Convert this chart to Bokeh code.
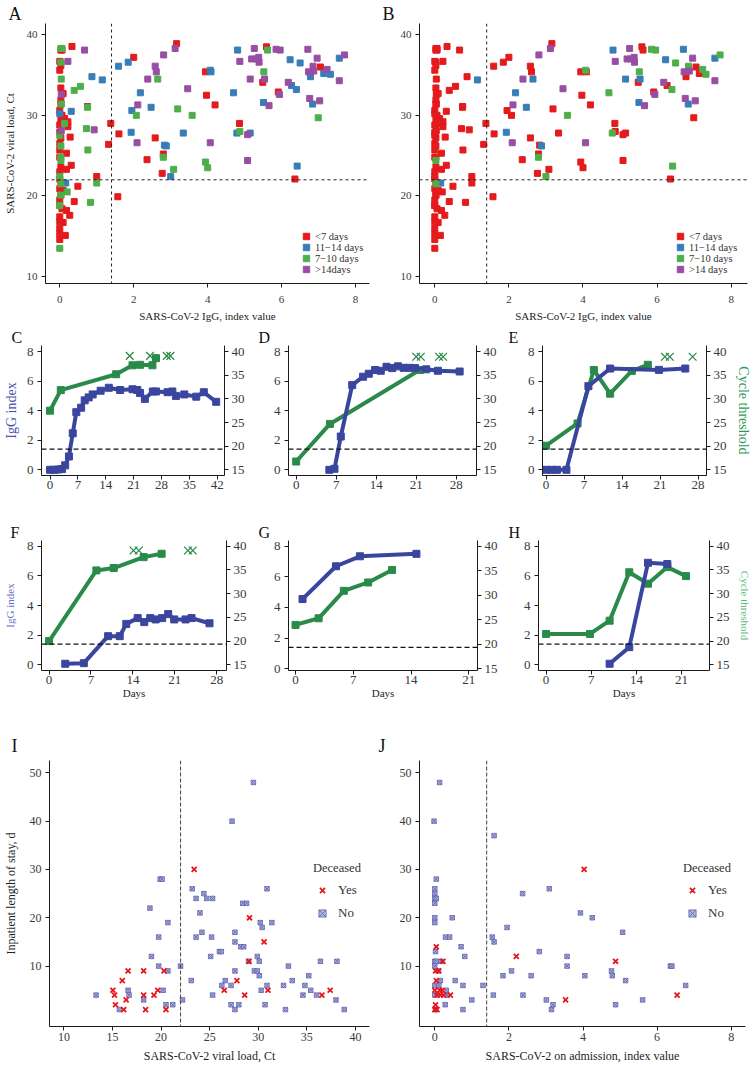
from bokeh.plotting import figure
from bokeh.models import (Range1d, LinearAxis, FixedTicker, Span, Title, Legend, LegendItem)
from bokeh.layouts import row, column
from bokeh.embed import file_html
from bokeh.resources import INLINE

FONT = "Liberation Serif"

# ---------------- Panels A / B : IgG index vs viral load (Ct) ----------------
igg_index = [
    0.03, 0.06, 0.0, 0.03, 0.0, 0.03, 0.09, 0.03, 0.03, 0.0,
    0.06, 0.03, 0.13, 0.0, 0.22, 0.22, 0.0, 0.03, 0.28, 0.0,
    0.0, 0.18, 0.0, 0.03, 0.31, 0.18, 0.0, 0.0, 0.03, 0.0,
    0.09, 0.03, 0.0, 0.0, 0.06, 0.18, 0.0, 0.27, 0.0, 0.09,
    0.0, 0.15, 0.0, 0.0, 0.33, 1.32, 1.38, 0.39, 0.49, 1.0,
    0.75, 1.57, 1.6, 2.0, 2.58, 2.36, 2.77, 2.8, 3.16, 3.94,
    3.97, 4.2, 4.86, 5.49, 5.59, 5.91, 6.36, 7.05,
    0.0, 0.16, 0.31, 0.87, 1.15, 1.59, 1.85, 2.18, 1.95, 1.93,
    2.47, 2.83, 2.88, 3.0, 3.34, 4.07, 4.09, 4.7, 4.81, 4.79,
    5.15, 5.51, 6.23, 6.27, 6.4, 6.5, 6.42, 6.78, 6.84, 7.14,
    7.32, 7.56,
    0.03, 0.06, 0.03, 0.04, 0.04, 0.0, 0.03, 0.03, 0.03, 0.0,
    0.03, 0.03, 0.0, 0.0, 0.13, 0.2, 0.39, 0.56, 0.75, 0.72,
    0.76, 1.0, 0.83, 2.07, 2.65, 2.8, 3.08, 3.19, 3.58, 3.94,
    4.0, 4.87, 5.52, 5.62, 6.99,
    0.04, 0.04, 0.22, 0.67, 0.93, 2.11, 2.09, 2.38, 2.58, 2.61,
    2.81, 3.12, 3.46, 4.07, 4.87, 5.08, 5.08, 5.15, 5.19, 5.26,
    5.3, 5.38, 5.39, 5.54, 5.66, 5.85, 5.96, 5.94, 6.18, 6.71,
    6.73, 6.76, 6.85, 6.87, 6.96, 7.03, 7.23, 7.56, 7.7]
viral_ct = [
    38.1, 38.1, 36.7, 36.2, 35.6, 33.4, 32.7, 31.9, 31.4, 30.6,
    30.0, 29.4, 29.6, 28.8, 29.2, 28.6, 27.9, 27.2, 27.3, 26.5,
    25.7, 25.3, 24.8, 23.6, 23.8, 23.3, 23.0, 22.1, 21.6, 20.9,
    20.7, 20.1, 19.5, 18.8, 18.4, 18.2, 17.4, 17.6, 16.8, 16.7,
    16.0, 15.1, 15.3, 14.6, 38.55, 26.4, 29.0, 19.3, 21.2, 22.4,
    31.1, 19.9, 27.7, 37.2, 27.2, 24.5, 22.8, 25.2, 38.9, 35.4,
    32.5, 31.3, 29.0, 34.1, 38.5, 32.9, 22.1, 36.0,
    30.2, 21.6, 30.5, 34.8, 34.4, 36.1, 36.6, 32.8, 30.6, 27.9,
    31.0, 26.3, 26.2, 22.4, 27.8, 35.6, 35.4, 32.8, 38.1, 27.8,
    27.8, 31.6, 36.9, 33.7, 33.2, 36.5, 23.7, 34.8, 31.4, 35.2,
    35.1, 37.1,
    38.3, 38.3, 36.6, 34.5, 31.4, 27.5, 26.2, 24.8, 24.4, 22.4,
    21.5, 20.1, 18.8, 13.5, 29.0, 20.5, 33.1, 33.6, 31.0, 28.35,
    25.7, 21.6, 19.2, 30.0, 34.5, 24.8, 23.3, 30.8, 30.0, 24.2,
    23.5, 28.0, 35.4, 38.1, 29.7,
    32.6, 28.1, 36.7, 38.1, 28.2, 31.3, 26.6, 34.5, 36.1, 35.4,
    37.5, 38.3, 33.3, 26.6, 36.7, 24.4, 27.6, 34.5, 37.0, 38.3,
    37.0, 37.2, 36.6, 34.5, 31.2, 38.2, 38.1, 32.6, 34.1, 38.2,
    35.4, 32.1, 36.1, 35.5, 37.1, 31.8, 35.7, 34.3, 37.5]
# group index: 0 "<7 days", 1 "11-14 days", 2 "7-10 days", 3 ">14 days"
group_a = [0] * 68 + [1] * 32 + [2] * 35 + [3] * 39
group_b = ([0] * 68 +
           [0, 1, 0, 0, 1, 0, 0, 1, 0, 1, 1, 0, 1, 2, 0, 2, 0, 2, 1, 2,
            0, 1, 1, 0, 2, 2, 2, 0, 1, 0, 2, 1] +
           [0, 0, 0, 0, 0, 0, 0, 0, 2, 0, 2, 0, 0, 0, 0, 0, 0, 0, 0, 0,
            0, 0, 0, 0, 1, 2, 0, 0, 2, 0, 0, 0, 2, 0, 0] +
           [0, 0, 0, 0, 0, 3, 3, 3, 0, 0, 3, 3, 3, 3, 3, 0, 0, 1, 3, 3,
            3, 3, 3, 1, 3, 2, 2, 3, 3, 1, 3, 3, 2, 3, 3, 3, 2, 3, 2])
labels_a = ["<7 days", "11\u221214 days", "7\u221210 days", ">14days"]
labels_b = ["<7 days", "11\u221214 days", "7\u221210 days", ">14 days"]
group_colors = ["#E41A1C", "#377EB8", "#4DAF4A", "#984EA3"]

# ---------------- Panels C-H : time courses ----------------
c_igg_day = [0, 1, 2, 3, 3.8, 4.75, 5.7, 6.6, 7.8, 8.7, 9.7, 10.7, 12.7, 14.75,
             17.6, 20.7, 21.9, 22.6, 23.8, 25.8, 26.6, 29.5, 30.7, 31.6, 33.7, 36.7, 38.6, 41.7]
c_igg = [0.0, 0.0, 0.02, 0.05, 0.3, 0.9, 2.47, 3.9, 4.2, 4.7, 4.9, 5.1, 5.35, 5.55,
         5.4, 5.45, 5.4, 5.2, 4.8, 5.3, 5.3, 5.25, 5.3, 5.0, 5.1, 4.95, 5.25, 4.6]
c_ct_day = [0, 2.7, 16.6, 20.7, 22.6, 25.7, 26.6]
c_ct = [27.5, 31.85, 35.2, 37.1, 37.2, 37.1, 38.6]
c_neg_day = [20.0, 25.1, 29.3, 30.2]
c_neg_ct = [39.1, 39.1, 39.1, 39.1]

d_igg_day = [5.8, 6.7, 7.8, 9.8, 11.7, 12.7, 13.8, 14.8, 15.8, 16.8, 17.8, 18.8, 19.8, 20.8, 22.75, 24.8, 28.6]
d_igg = [0.0, 0.07, 2.25, 5.73, 6.3, 6.5, 6.75, 6.7, 6.97, 6.88, 7.0, 6.9, 6.9, 6.88, 6.8, 6.7, 6.65]
d_ct_day = [0, 5.9, 21.6]
d_ct = [16.75, 24.7, 36.1]
d_neg_day = [21.0, 21.8, 25.0, 25.7]
d_neg_ct = [38.9, 38.9, 38.9, 38.9]

e_igg_day = [0, 1, 2, 3.75, 7.8, 11.8, 20.8, 25.65]
e_igg = [0.0, 0.0, 0.0, 0.0, 5.66, 6.85, 6.76, 6.85]
e_ct_day = [0, 5.8, 8.8, 11.8, 15.8, 18.75]
e_ct = [20.1, 24.8, 36.1, 31.1, 35.9, 37.2]
e_neg_day = [21.9, 22.8, 27.0]
e_neg_ct = [38.9, 38.9, 38.9]

f_igg_day = [2.7, 5.8, 9.86, 11.8, 12.9, 14.8, 15.9, 16.9, 17.8, 18.9, 19.9, 20.9, 22.8, 23.8, 26.8]
f_igg = [0.07, 0.11, 1.93, 1.93, 2.76, 3.15, 2.88, 3.15, 3.06, 3.15, 3.42, 3.06, 3.06, 3.15, 2.8]
f_ct_day = [0, 7.9, 10.8, 15.8, 18.8]
f_ct = [20.0, 34.9, 35.4, 37.7, 38.4]
f_neg_day = [14.1, 15.0, 23.2, 24.0]
f_neg_ct = [39.1, 39.1, 39.1, 39.1]

g_igg_day = [0.85, 4.9, 7.8, 14.65]
g_igg = [4.55, 6.69, 7.34, 7.5]
g_ct_day = [0, 2.8, 5.85, 8.8, 11.7]
g_ct = [23.95, 25.3, 30.9, 32.6, 35.15]

h_igg_day = [9.85, 12.9, 15.8, 18.8]
h_igg = [0.07, 1.19, 6.88, 6.8]
h_ct_day = [0, 6.8, 9.85, 12.9, 15.8, 18.8, 21.7]
h_ct = [21.5, 21.5, 24.3, 34.5, 32.1, 35.6, 33.7]

# ---------------- Panels I / J : length of stay ----------------
i_ct_yes = [15.03, 15.2, 15.3, 16.0, 16.4, 16.15, 16.6, 18.2, 18.2, 18.4, 19.26, 19.66,
            20.3, 20.5, 23.4, 26.5, 27.8, 28.6, 29.05, 29.1, 30.6, 31.0, 36.55, 37.4]
i_los_yes = [5, 4, 2, 7, 3, 1, 9, 9, 4, 1, 4, 5, 9, 1, 30, 5, 7, 4, 11, 20, 15, 5, 4, 5]
i_ct_no = [13.3, 15.7, 16.6, 16.7, 18.2, 18.85, 19.0, 19.75, 19.75, 19.9,
           20.1, 20.2, 20.5, 20.7, 20.7, 21.2, 22.0, 22.2, 23.1, 23.2,
           23.6, 23.6, 24.0, 24.2, 24.4, 24.7, 25.3, 25.2, 25.1, 25.3,
           26.0, 26.2, 26.25, 26.6, 27.3, 27.2, 27.2, 27.6, 27.6, 27.6,
           27.6, 28.0, 28.2, 28.5, 28.4, 28.8, 29.5, 29.0, 29.9, 30.1,
           29.6, 29.9, 30.1, 30.2, 30.4, 30.3, 30.7, 30.9, 30.9, 31.4,
           32.6, 32.8, 33.1, 33.5, 34.6, 34.8, 35.2, 35.4, 36.0, 36.4,
           38.0, 38.1, 38.85]
i_los_no = [4, 1, 5, 4, 3, 22, 12, 16, 10, 28,
            28, 5, 2, 19, 9, 2, 10, 3, 7, 26,
            24, 16, 21, 17, 25, 24, 24, 16, 12, 4,
            13, 13, 6, 7, 40, 6, 2, 17, 15, 9,
            1, 2, 14, 14, 23, 23, 48, 11, 12, 11,
            9, 9, 8, 19, 18, 5, 2, 26, 6, 19,
            6, 1, 10, 7, 4, 6, 8, 5, 4, 11,
            3, 11, 1]
j_igg_yes = [0.04, 0.04, 0.02, 0.11, 0.0, 0.06, 0.0, 0.06, 0.02, 0.13, 0.2, 0.15, 0.24,
             0.22, 0.42, 2.2, 3.53, 4.03, 4.88, 6.54]
j_los_yes = [14, 7, 9, 9, 5, 4, 1, 1, 2, 5, 5, 4, 4, 11, 4, 12, 3, 30, 11, 4]
j_igg_no = [0.13, -0.02, 0.04, 0.0, 0.0, 0.0, 0.04, 0.0, 0.0, 0.0,
            0.29, 0.4, 0.71, 0.02, 0.81, 0.0, 0.04, 0.17, 0.47, 0.15,
            0.55, 0.0, 0.09, 0.0, 0.11, 0.76, 0.31, 0.33, 0.28, 1.0,
            0.76, 0.0, 0.02, 1.3, 1.55, 1.6, 1.6, 1.58, 1.84, 1.95,
            2.07, 2.37, 2.38, 2.6, 2.82, 3.01, 3.09, 3.15, 3.19, 3.57,
            3.57, 3.93, 4.05, 4.25, 4.77, 4.79, 4.88, 5.07, 5.15, 5.61,
            6.36, 6.4, 6.77]
j_los_no = [48, 40, 28, 26, 25, 24, 24, 23, 20, 19,
            16, 16, 14, 13, 12, 11, 11, 11, 20, 7,
            7, 10, 9, 6, 6, 6, 5, 4, 2, 3,
            1, 4, 1, 6, 16, 15, 37, 4, 8, 18,
            9, 25, 4, 8, 13, 3, 26, 1, 2, 10,
            12, 21, 8, 20, 9, 8, 2, 17, 7, 3,
            10, 10, 6]

IGG_BLUE = "#3A469E"
CT_GREEN = "#2A8A4A"


def base_fig(w, h, l, r, t, b, xr, yr):
    p = figure(width=w, height=h, x_range=Range1d(*xr), y_range=Range1d(*yr),
               output_backend="svg", toolbar_location=None, title=None,
               min_border_left=l, min_border_right=r, min_border_top=t, min_border_bottom=b)
    p.outline_line_color = None
    p.xgrid.grid_line_color = None
    p.ygrid.grid_line_color = None
    p.background_fill_color = "white"
    p.border_fill_color = "white"
    return p


def style_axis(ax, ticks, fs, lab_standoff=4, label=None, label_fs="11px",
               label_color="#1e1e1e", label_standoff=3):
    ax.ticker = FixedTicker(ticks=ticks)
    ax.axis_line_color = "#1a1a1a"
    ax.axis_line_width = 1
    ax.major_tick_line_color = "#1a1a1a"
    ax.major_tick_in = 0
    ax.major_tick_out = 4
    ax.minor_tick_line_color = None
    ax.major_label_text_font = FONT
    ax.major_label_text_font_size = fs
    ax.major_label_text_color = "#3a3a3a"
    ax.major_label_standoff = lab_standoff
    if label:
        ax.axis_label = label
        ax.axis_label_text_font = FONT
        ax.axis_label_text_font_style = "normal"
        ax.axis_label_text_font_size = label_fs
        ax.axis_label_text_color = label_color
        ax.axis_label_standoff = label_standoff


def letter(p, txt, offset, fs="18px", standoff=0):
    p.add_layout(Title(text=txt, align="left", offset=offset, standoff=standoff,
                       text_font=FONT, text_font_size=fs, text_font_style="normal",
                       text_color="#111111", vertical_align="bottom"), "above")


def dashed(p, loc, dim, color="#222222", dash="3 3", width=1.0):
    p.add_layout(Span(location=loc, dimension=dim, line_color=color, line_dash=dash,
                      line_width=width))


# ---------- A / B ----------
def scatter_panel(w, l, r, xr, groups, leg_labels, ylabel, txt, loff):
    p = base_fig(w, 326, l, r, 23, 43, xr, (9.13, 41.4))
    for k, col in enumerate(group_colors):
        xs = [x for x, g in zip(igg_index, groups) if g == k]
        ys = [y for y, g in zip(viral_ct, groups) if g == k]
        rr = p.scatter(xs, ys, marker="square", size=6, fill_color=col, line_color=col)
        leg = Legend(items=[LegendItem(label=leg_labels[k], renderers=[rr])],
                     location=(253, 39 - 11 * k), glyph_width=16, glyph_height=16,
                     label_height=11, padding=0, margin=0, label_standoff=1,
                     label_text_font=FONT, label_text_font_size="10.5px",
                     label_text_color="#333333", border_line_color=None,
                     background_fill_alpha=0)
        p.add_layout(leg, "center")
    dashed(p, 1.4, "height")
    dashed(p, 22, "width")
    style_axis(p.xaxis[0], [0, 2, 4, 6, 8], "11px", lab_standoff=8,
               label="SARS-CoV-2 IgG, index value", label_fs="11px", label_standoff=4)
    style_axis(p.yaxis[0], [10, 20, 30, 40], "11px", lab_standoff=4,
               label=ylabel, label_fs="11px", label_standoff=8)
    letter(p, txt, loff, "18px", 0)
    return p


pA = scatter_panel(378, 44, 9, (-0.386, 8.377), group_a, labels_a,
                   "SARS-CoV-2 viral load, Ct", "A", -37)
pB = scatter_panel(375, 41, 6, (-0.413, 8.44), group_b, labels_b, None, "B", -37)


# ---------- C - H ----------
def course_panel(w, h, l, r, t, b, xr, yr, xticks, igg_d, igg_v, ct_d, ct_v,
                 neg_d=None, neg_v=None, ylab=None, ylab_color=None, ylab_fs="14px",
                 ylab_standoff=5, rlab=None, rlab_color=None, rlab_fs="14px",
                 xlab=None, txt="", loff=-30):
    p = base_fig(w, h, l, r, t, b, xr, yr)
    p.extra_y_ranges = {"ct": Range1d(15 + yr[0] * 25 / 8, 15 + yr[1] * 25 / 8)}
    rax = LinearAxis(y_range_name="ct")
    p.add_layout(rax, "right")
    style_axis(p.xaxis[0], xticks, "13px", lab_standoff=1,
               label=xlab, label_fs="11px", label_standoff=0)
    style_axis(p.yaxis[0], [0, 2, 4, 6, 8], "13px", lab_standoff=4,
               label=ylab, label_fs=ylab_fs, label_color=ylab_color or "#222222",
               label_standoff=ylab_standoff)
    style_axis(rax, [15, 20, 25, 30, 35, 40], "13px", lab_standoff=3,
               label=rlab, label_fs=rlab_fs, label_color=rlab_color or "#222222",
               label_standoff=6)
    dashed(p, 1.4, "width", color="#111111", dash="5 3", width=1.2)
    p.line(ct_d, ct_v, y_range_name="ct", line_color=CT_GREEN, line_width=4)
    p.scatter(ct_d, ct_v, y_range_name="ct", marker="square", size=7,
              fill_color=CT_GREEN, line_color=CT_GREEN)
    p.line(igg_d, igg_v, line_color=IGG_BLUE, line_width=4)
    p.scatter(igg_d, igg_v, marker="square", size=7, fill_color=IGG_BLUE, line_color=IGG_BLUE)
    if neg_d:
        p.scatter(neg_d, neg_v, y_range_name="ct", marker="x", size=11,
                  line_color=CT_GREEN, line_width=1.3)
    letter(p, txt, loff, "16px", 0)
    return p


pC = course_panel(258, 194, 37, 34, 19, 45, (-2.14, 43.79), (-0.385, 8.41),
                  [0, 7, 14, 21, 28, 35, 42], c_igg_day, c_igg, c_ct_day, c_ct,
                  c_neg_day, c_neg_ct, ylab="IgG index", ylab_color="#4A52AE",
                  txt="C", loff=-30)
pD = course_panel(250, 194, 30, 32, 19, 45, (-1.35, 31.55), (-0.385, 8.41),
                  [0, 7, 14, 21, 28], d_igg_day, d_igg, d_ct_day, d_ct,
                  d_neg_day, d_neg_ct, txt="D", loff=-30)
pE = course_panel(245, 194, 34, 42, 19, 45, (-0.66, 29.56), (-0.385, 8.41),
                  [0, 7, 14, 21, 28], e_igg_day, e_igg, e_ct_day, e_ct,
                  e_neg_day, e_neg_ct, rlab="Cycle threshold", rlab_color="#2E9A55",
                  txt="E", loff=-34)
pF = course_panel(258, 190, 38, 32, 20, 40, (-1.27, 29.64), (-0.385, 8.385),
                  [0, 7, 14, 21, 28], f_igg_day, f_igg, f_ct_day, f_ct,
                  f_neg_day, f_neg_ct, ylab="IgG index", ylab_color="#6A70C4",
                  ylab_fs="11px", ylab_standoff=8, xlab="Days", txt="F", loff=-31)
pG = course_panel(250, 190, 30, 31, 20, 40, (-0.85, 22.05), (-0.11, 8.37),
                  [0, 7, 14, 21], g_igg_day, g_igg, g_ct_day, g_ct,
                  xlab="Days", txt="G", loff=-30)
pH = course_panel(245, 190, 30, 42, 20, 40, (-1.18, 25.34), (-0.385, 8.385),
                  [0, 7, 14, 21], h_igg_day, h_igg, h_ct_day, h_ct,
                  rlab="Cycle threshold", rlab_color="#5DBB7A", rlab_fs="11px",
                  xlab="Days", txt="H", loff=-30)


# ---------- I / J ----------
def stay_panel(w, l, r, xr, xticks, x_yes, y_yes, x_no, y_no, xlab, ylab, cut, txt, loff):
    p = base_fig(w, 355, l, r, 50, 39, xr, (-2.5, 52.55))
    r_no = p.scatter(x_no, y_no, marker="square_x", size=4.5, fill_color="#B4B8E0",
                     line_color="#5A60AC", line_width=0.8)
    r_yes = p.scatter(x_yes, y_yes, marker="x", size=7, line_color="#E8141C", line_width=1.8)
    dashed(p, cut, "height", color="#444444", dash="4 2", width=1.0)
    style_axis(p.xaxis[0], xticks, "12px", lab_standoff=2,
               label=xlab, label_fs="12px", label_standoff=5)
    style_axis(p.yaxis[0], [10, 20, 30, 40, 50], "12px", lab_standoff=4,
               label=ylab, label_fs="12px", label_standoff=9)
    leg = Legend(items=[LegendItem(label="Yes", renderers=[r_yes]),
                        LegendItem(label="No", renderers=[r_no])],
                 title="Deceased", location=(264, 104), orientation="vertical",
                 glyph_width=18, glyph_height=18, label_height=18, spacing=5,
                 padding=0, margin=0, label_standoff=7, title_standoff=5,
                 label_text_font=FONT, label_text_font_size="13px", label_text_color="#333333",
                 title_text_font=FONT, title_text_font_size="12.5px", title_text_font_style="normal",
                 title_text_color="#333333", border_line_color=None, background_fill_alpha=0)
    p.add_layout(leg, "center")
    letter(p, txt, loff, "18px", 10)
    return p


pI = stay_panel(378, 44, 9, (8.51, 41.45), [10, 15, 20, 25, 30, 35, 40],
                i_ct_yes, i_los_yes, i_ct_no, i_los_no,
                "SARS-CoV-2 viral load, Ct", "Inpatient length of stay, d", 22, "I", -38)
pJ = stay_panel(375, 41, 8, (-0.413, 8.386), [0, 2, 4, 6, 8],
                j_igg_yes, j_los_yes, j_igg_no, j_los_no,
                "SARS-CoV-2 on admission, index value", None, 1.4, "J", -41)

layout = column(row(pA, pB), row(pC, pD, pE), row(pF, pG, pH), row(pI, pJ))
open("out.html", "w").write(file_html(layout, INLINE))
